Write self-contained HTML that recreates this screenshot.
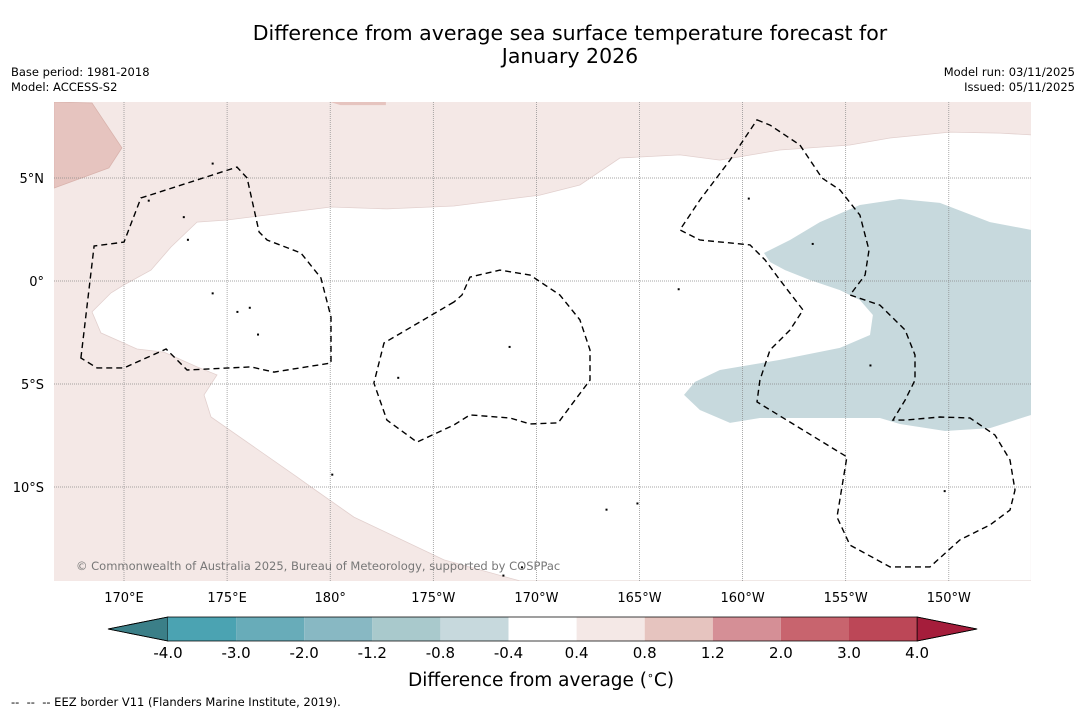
<!DOCTYPE html>
<html><head><meta charset="utf-8">
<style>
body{margin:0;background:#fff;font-family:"DejaVu Sans","Liberation Sans",sans-serif;}
#wrap{position:relative;width:1085px;height:713px;overflow:hidden;background:#fff;}
.t{position:absolute;color:#000;white-space:nowrap;}
svg text{font-family:"DejaVu Sans","Liberation Sans",sans-serif;}
</style></head><body>
<div id="wrap">
<div class="t" style="left:0;width:1140px;top:22px;text-align:center;font-size:20.5px;line-height:23px;">Difference from average sea surface temperature forecast for<br>January 2026</div>
<div class="t" style="left:11px;top:65px;font-size:11.5px;line-height:15px;">Base period: 1981-2018<br>Model: ACCESS-S2</div>
<div class="t" style="right:10px;top:65px;font-size:11.5px;line-height:15px;text-align:right;">Model run: 03/11/2025<br>Issued: 05/11/2025</div>
<svg id="map" width="1085" height="713" style="position:absolute;left:0;top:0"></svg>
<div class="t" style="left:408px;top:669px;font-size:18.5px;">Difference from average (<sup style="font-size:11px">∘</sup>C)</div>
<div class="t" style="left:11px;top:695px;font-size:11.5px;">--&nbsp; --&nbsp; -- EEZ border V11 (Flanders Marine Institute, 2019).</div>
</div>
<script>
const lonTicks=[170,175,180,185,190,195,200,205,210];
const lonLabels=["170°E","175°E","180°","175°W","170°W","165°W","160°W","155°W","150°W"];
const latTicks=[5,0,-5,-10];
const latLabels=["5°N","0°","5°S","10°S"];
const whiteRegion=[[168.45,-1.5],[169.37,-0.58],[170,-0.19],[171.31,0.53],[172.28,1.65],[173.54,2.86],[175,2.96],[180.04,3.59],[182.75,3.5],[186,3.64],[190.17,4.17],[192.11,4.66],[194.05,5.97],[196.96,6.12],[198.9,5.87],[201.81,6.36],[205.21,6.6],[207.15,6.94],[210.06,7.23],[212.48,7.18],[214,7.09],[214,-14.56],[189.2,-14.56],[185.52,-13.54],[181.15,-11.46],[179.07,-10],[178.39,-9.51],[174.22,-6.6],[173.88,-5.53],[174.51,-4.56],[173.54,-4.17],[171.94,-3.45],[170.63,-3.3],[168.88,-2.52]];
const blueRegion=[[201.04,1.36],[202.3,1.99],[203.75,2.86],[205.69,3.69],[207.63,3.98],[209.57,3.79],[212,2.86],[214,2.48],[214,-6.5],[212,-7.14],[209.82,-7.28],[207.63,-6.94],[206.66,-6.65],[200.84,-6.65],[199.39,-6.89],[197.93,-6.26],[197.16,-5.53],[197.69,-4.9],[198.9,-4.32],[201.81,-3.83],[204.72,-3.25],[206.18,-2.62],[206.32,-1.65],[205.69,-0.92],[204.72,-0.44],[203.27,0.05],[202.06,0.53],[201.33,0.92]];
const warmRegion1=[[166.6,8.69],[168.45,8.64],[169.9,6.46],[169.27,5.49],[166.6,4.51]];
const warmRegion2=[[180,8.69],[182.7,8.69],[182.7,8.54],[180.5,8.54]];
const eezWest=[[167.91,-3.74],[168.55,1.7],[170,1.89],[170.82,4.03],[175.48,5.53],[175.97,5],[176.55,2.38],[176.94,1.99],[178.58,1.36],[179.55,0.15],[180.04,-1.75],[180.04,-3.98],[177.27,-4.42],[176.16,-4.17],[173.06,-4.32],[172.04,-3.3],[170,-4.22],[168.69,-4.22]];
const eezMid=[[186,-1.02],[182.61,-3.01],[182.12,-4.95],[182.75,-6.75],[184.21,-7.82],[186,-6.99],[186.78,-6.5],[188.72,-6.65],[189.69,-6.94],[191.05,-6.89],[191.87,-5.78],[192.6,-4.81],[192.6,-3.35],[192.11,-1.89],[191.14,-0.68],[189.69,0.29],[188.23,0.53],[186.78,0.19],[186.39,-0.68]];
const eezEast=[[200.7,7.82],[201.33,7.57],[202.78,6.6],[203.85,5],[204.72,4.42],[205.69,3.2],[206.13,1.5],[205.94,0.29],[205.21,-0.68],[206.66,-1.17],[207.88,-2.38],[208.36,-3.59],[208.36,-4.81],[207.88,-5.78],[207.29,-6.75],[207.88,-6.75],[209.57,-6.6],[211.03,-6.65],[212.24,-7.48],[212.97,-8.69],[213.21,-10.15],[212.97,-11.12],[212,-11.84],[210.54,-12.57],[209.09,-13.88],[207.15,-13.88],[205.21,-12.82],[204.58,-11.46],[205.06,-8.54],[200.7,-5.87],[200.84,-4.81],[201.33,-3.35],[202.3,-2.38],[202.93,-1.41],[201.81,0.05],[201.09,1.02],[200.36,1.75],[197.93,1.99],[196.96,2.48],[197.93,3.93],[199.39,5.87]];
const islands=[[172.9,3.1],[173.1,2.0],[174.3,-0.6],[175.5,-1.5],[176.1,-1.3],[176.5,-2.6],[180.1,-9.4],[183.3,-4.7],[188.7,-3.2],[193.4,-11.1],[196.9,-0.4],[200.3,4.0],[203.4,1.8],[206.2,-4.1],[209.8,-10.2],[188.4,-14.3],[189.3,-13.9],[194.9,-10.8],[171.2,3.9],[174.3,5.7]];
const cbLabels=["-4.0","-3.0","-2.0","-1.2","-0.8","-0.4","0.4","0.8","1.2","2.0","3.0","4.0"];
const cbColors=["#4ba3b2","#68acb9","#88b8c3","#a9c9cc","#c7d9dd","#ffffff","#f4e8e6","#e6c4bf","#d58f96","#c8646e","#bc4757"];

const NS="http://www.w3.org/2000/svg";
const svg=document.getElementById('map');
const X0=54,X1=1031,Y0=102,Y1=581;
const px=lon=>124+(lon-170)*20.62;
const py=lat=>281-lat*20.6;
function mk(tag,attrs,parent){const e=document.createElementNS(NS,tag);for(const k in attrs)e.setAttribute(k,attrs[k]);(parent||svg).appendChild(e);return e;}
const pts=a=>a.map(p=>px(p[0]).toFixed(1)+','+py(p[1]).toFixed(1)).join(' ');

const defs=mk('defs',{});
const cp=mk('clipPath',{id:'clip'},defs);
mk('rect',{x:X0,y:Y0,width:X1-X0,height:Y1-Y0},cp);
const g=mk('g',{'clip-path':'url(#clip)'});
let bg=mk('rect',{x:X0,y:Y0,width:X1-X0,height:Y1-Y0,fill:'#f4e8e6'},g);

let w=mk('polygon',{points:pts(whiteRegion),fill:'#ffffff',stroke:'#e2d0ce','stroke-width':0.8},g);

let b=mk('polygon',{points:pts(blueRegion),fill:'#c7d9dd'},g);

let r1=mk('polygon',{points:pts(warmRegion1),fill:'#e6c4bf',stroke:'#d9b3ad','stroke-width':0.8},g);

let r2=mk('polygon',{points:pts(warmRegion2),fill:'#e6c4bf'},g);

lonTicks.forEach((lon,i)=>{
  let l=mk('line',{x1:px(lon),x2:px(lon),y1:Y0,y2:Y1,stroke:'#888','stroke-width':0.7,'stroke-dasharray':'1,1'},g);
  
  let t=mk('text',{x:px(lon),y:602,'text-anchor':'middle','font-size':13,fill:'#000'});
  t.textContent=lonLabels[i];
  
});
latTicks.forEach((lat,i)=>{
  let l=mk('line',{x1:X0,x2:X1,y1:py(lat),y2:py(lat),stroke:'#888','stroke-width':0.7,'stroke-dasharray':'1,1'},g);
  
  let t=mk('text',{x:44,y:py(lat)+5,'text-anchor':'end','font-size':13,fill:'#000'});
  t.textContent=latLabels[i];
  
});
islands.forEach(p=>{
  let c=mk('rect',{x:px(p[0])-1,y:py(p[1])-1,width:2,height:2,fill:'#000'},g);
  
});
[eezWest,eezMid,eezEast].forEach(a=>{
  let p=mk('polygon',{points:pts(a),fill:'none',stroke:'#000','stroke-width':1.4,'stroke-dasharray':'6,4'},g);
  
});
let cr=mk('text',{x:76,y:570,'font-size':11.5,fill:'#777'});
cr.textContent='© Commonwealth of Australia 2025, Bureau of Meteorology, supported by COSPPac';


const cbX0=168,cbW=68.1,cbY=617,cbH=24;
let la=mk('polygon',{points:`108,${cbY+cbH/2} ${cbX0},${cbY} ${cbX0},${cbY+cbH}`,fill:'#3b7f88',stroke:'#000','stroke-width':0.8});

cbColors.forEach((c,i)=>{
  let r=mk('rect',{x:cbX0+i*cbW,y:cbY,width:cbW,height:cbH,fill:c});
  
});
const cbX1=cbX0+cbColors.length*cbW;
let ra=mk('polygon',{points:`${cbX1},${cbY} ${cbX1+60},${cbY+cbH/2} ${cbX1},${cbY+cbH}`,fill:'#a51d3b',stroke:'#000','stroke-width':0.8});

mk('polygon',{points:`108,${cbY+cbH/2} ${cbX0},${cbY} ${cbX1},${cbY} ${cbX1+60},${cbY+cbH/2} ${cbX1},${cbY+cbH} ${cbX0},${cbY+cbH}`,fill:'none',stroke:'#000','stroke-width':0.8});
cbLabels.forEach((s,i)=>{
  let t=mk('text',{x:cbX0+i*cbW,y:658,'text-anchor':'middle','font-size':15,fill:'#000'});
  t.textContent=s;
  
});
</script>
</body></html>
